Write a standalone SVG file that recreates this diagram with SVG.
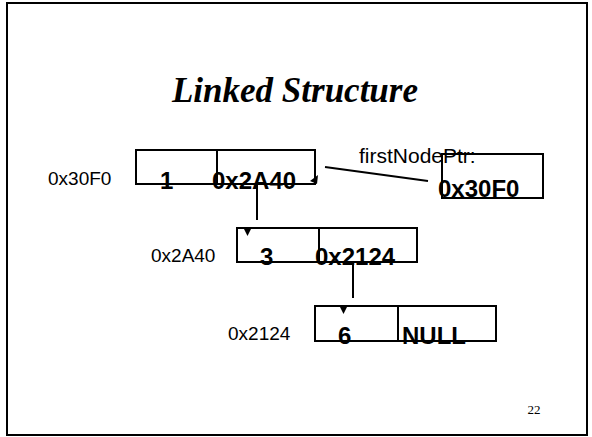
<svg xmlns="http://www.w3.org/2000/svg" width="592" height="437" viewBox="0 0 592 437">
<style>
.box{fill:none;stroke:#000;stroke-width:2}
.ln{stroke:#000;stroke-width:2;fill:none}
.ah{fill:#000;stroke:none}
.lbl{font-family:"Liberation Sans",Arial,sans-serif;font-size:19px;fill:#000}
.val{font-family:"Liberation Sans",Arial,sans-serif;font-size:24px;font-weight:bold;fill:#000}
.ptr{font-family:"Liberation Sans",Arial,sans-serif;font-size:21px;fill:#000}
.title{font-family:"Liberation Serif","Times New Roman",serif;font-size:35px;font-weight:bold;font-style:italic;fill:#000}
.pg{font-family:"Liberation Serif","Times New Roman",serif;font-size:13px;fill:#000}
</style>
<rect x="0" y="0" width="592" height="437" fill="#fff"/>
<rect x="7" y="3" width="580" height="432" fill="none" stroke="#000" stroke-width="2"/>
<text class="title" x="295" y="102" text-anchor="middle">Linked Structure</text>
<g id="connectors">
<line class="ln" x1="428" y1="181" x2="325" y2="167"/>
<polygon class="ah" points="310,181 318,175 317,184"/>
<line class="ln" x1="257" y1="184" x2="257" y2="220"/>
<polygon class="ah" points="243.5,228 251.5,228 247.5,236"/>
<line class="ln" x1="353" y1="262" x2="353" y2="298"/>
<polygon class="ah" points="339.5,306 347.5,306 343.5,314"/>
</g>
<g id="node1">
<rect class="box" x="136" y="150" width="179" height="34"/>
<line class="ln" x1="217" y1="150" x2="217" y2="184"/>
<text class="lbl" x="48" y="185">0x30F0</text>
<text class="val" x="160" y="189">1</text>
<text class="val" x="212" y="189">0x2A40</text>
</g>
<g id="firstNodePtr">
<rect class="box" x="442" y="154" width="101" height="44"/>
<text class="ptr" x="359" y="163">firstNodePtr:</text>
<text class="val" x="438" y="197">0x30F0</text>
</g>
<g id="node2">
<rect class="box" x="237" y="228" width="180" height="34"/>
<line class="ln" x1="319" y1="228" x2="319" y2="262"/>
<text class="lbl" x="151" y="262">0x2A40</text>
<text class="val" x="260" y="265">3</text>
<text class="val" x="315" y="265">0x2124</text>
</g>
<g id="node3">
<rect class="box" x="315" y="306" width="181" height="35"/>
<line class="ln" x1="398" y1="306" x2="398" y2="341"/>
<text class="lbl" x="228" y="340">0x2124</text>
<text class="val" x="338" y="344">6</text>
<text class="val" x="402" y="344">NULL</text>
</g>
<text class="pg" x="534" y="414" text-anchor="middle">22</text>
</svg>
